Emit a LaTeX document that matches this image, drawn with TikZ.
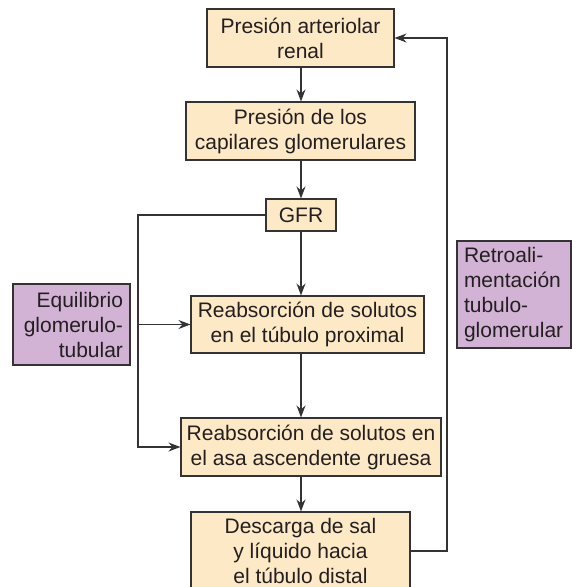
\documentclass[tikz,border=0pt]{standalone}
\usepackage{fontspec}
\setmainfont{Liberation Sans}
\usetikzlibrary{arrows.meta,calc}
\definecolor{BoxPeach}{HTML}{FDE9C6}
\definecolor{BoxLilac}{HTML}{D2B3D5}
\definecolor{EdgeInk}{HTML}{333333}
\definecolor{TextInk}{HTML}{231F20}

\begin{document}
\begin{tikzpicture}[x=1pt, y=-1pt,
  flowbox/.style={draw=EdgeInk, line width=1.1pt, fill=BoxPeach, inner sep=0pt, align=center, text=TextInk, font=\fontsize{21}{25}\selectfont},
  notebox/.style={flowbox, fill=BoxLilac},
  arr/.style={EdgeInk, line width=1.1pt, -{Stealth[length=12pt,width=9pt,inset=4pt]}},
  wire/.style={EdgeInk, line width=1.1pt}]
  \clip (0,0) rectangle (572,587);
  \node[flowbox, minimum width=187, minimum height=58] (arteriolar) at (300.5,38) {Presión arteriolar\\renal};
  \node[flowbox, minimum width=229, minimum height=58] (capilares) at (300.5,131) {Presión de los\\capilares glomerulares};
  \node[flowbox, minimum width=70, minimum height=32] (gfr) at (301,215) {GFR};
  \node[flowbox, minimum width=233, minimum height=57] (proximal) at (307.5,324.5) {Reabsorción de solutos\\en el túbulo proximal};
  \node[flowbox, minimum width=260, minimum height=58] (asa) at (311,447) {Reabsorción de solutos en\\el asa ascendente gruesa};
  \node[flowbox, minimum width=219, minimum height=78] (descarga) at (300.5,551) {Descarga de sal\\y líquido hacia\\el túbulo distal};
  \node[notebox, text width=103, inner xsep=7, minimum height=81, align=right] (equilibrio) at (71.5,324.5) {Equilibrio\\glomerulo-\\tubular};
  \node[notebox, text width=100, inner xsep=7, minimum height=107, align=left] (retro) at (514,294.5) {Retroali-\\mentación\\tubulo-\\glomerular};

  \foreach \a/\b in {arteriolar/capilares, capilares/gfr, gfr/proximal, proximal/asa, asa/descarga}
    \draw[arr] (\a.south -| gfr) -- (\b.north -| gfr);

  \coordinate (bus) at (138,0);
  \coordinate (loop) at (447,0);
  \draw[arr] (gfr.west) -| (bus |- asa.west) -- (asa.west);
  \draw[arr] (bus |- proximal.west) -- (proximal.west);
  \draw[arr] (descarga.east) -| (loop |- arteriolar.east) -- (arteriolar.east);
\end{tikzpicture}
\end{document}
